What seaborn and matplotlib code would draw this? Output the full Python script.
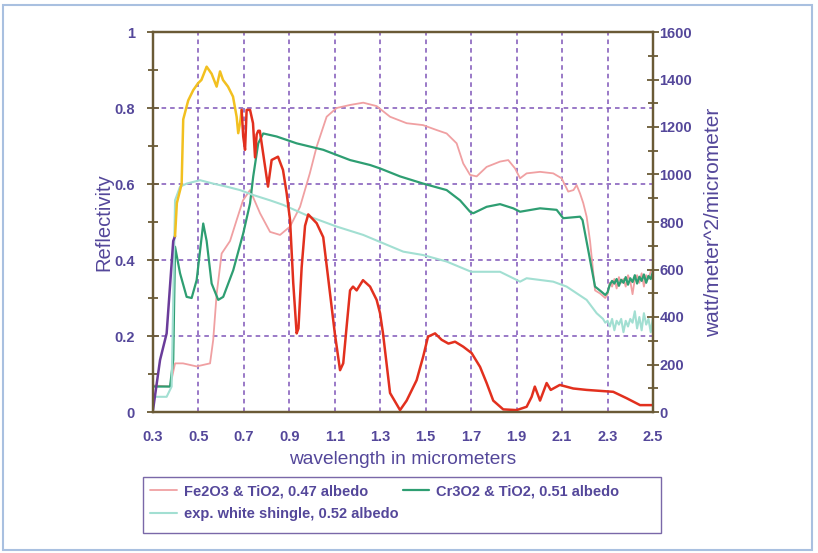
import numpy as np
import pandas as pd
import matplotlib
matplotlib.use("Agg")
import matplotlib.pyplot as plt
from matplotlib.patches import Rectangle
import seaborn as sns

# ---------------- data ----------------
# Fe2O3 & TiO2 reflectivity
fe_x = [0.30, 0.375, 0.397, 0.432, 0.492, 0.551, 0.565, 0.58, 0.602, 0.639, 0.668, 0.696,
        0.727, 0.771, 0.815, 0.859, 0.903, 0.947, 0.99, 1.02, 1.064, 1.108, 1.167, 1.225,
        1.284, 1.343, 1.416, 1.488, 1.548, 1.592, 1.636, 1.665, 1.695, 1.724, 1.768, 1.827,
        1.863, 1.893, 1.915, 1.944, 2.003, 2.061, 2.098, 2.127, 2.15, 2.164, 2.179, 2.193,
        2.208, 2.223, 2.245, 2.267, 2.29, 2.30, 2.31, 2.32, 2.33, 2.34, 2.35, 2.36, 2.37,
        2.38, 2.39, 2.40, 2.41, 2.42, 2.43, 2.44, 2.45, 2.46, 2.47, 2.48, 2.49, 2.50]
fe_y = [0.07, 0.067, 0.128, 0.128, 0.12, 0.128, 0.19, 0.31, 0.417, 0.45, 0.505, 0.557,
        0.584, 0.523, 0.474, 0.466, 0.488, 0.54, 0.628, 0.698, 0.777, 0.80, 0.808, 0.814,
        0.805, 0.777, 0.76, 0.755, 0.742, 0.733, 0.707, 0.654, 0.624, 0.62, 0.645, 0.659,
        0.663, 0.641, 0.615, 0.628, 0.632, 0.628, 0.615, 0.58, 0.584, 0.597, 0.575, 0.55,
        0.514, 0.45, 0.32, 0.312, 0.30, 0.31, 0.34, 0.33, 0.35, 0.325, 0.355, 0.34, 0.35,
        0.33, 0.36, 0.345, 0.31, 0.35, 0.36, 0.34, 0.365, 0.33, 0.36, 0.35, 0.37, 0.375]

# Cr3O2 & TiO2 reflectivity
cr_x = [0.30, 0.375, 0.389, 0.397, 0.419, 0.448, 0.47, 0.492, 0.521, 0.536, 0.558, 0.587,
        0.609, 0.653, 0.697, 0.727, 0.741, 0.763, 0.785, 0.844, 0.932, 1.049, 1.167, 1.255,
        1.299, 1.387, 1.489, 1.592, 1.651, 1.695, 1.709, 1.768, 1.827, 1.885, 1.915, 2.003,
        2.076, 2.105, 2.179, 2.19, 2.215, 2.245, 2.27, 2.29, 2.30, 2.31, 2.32, 2.33, 2.34,
        2.35, 2.36, 2.37, 2.38, 2.39, 2.40, 2.41, 2.42, 2.43, 2.44, 2.45, 2.46, 2.47, 2.48,
        2.49, 2.50]
cr_y = [0.067, 0.067, 0.137, 0.435, 0.365, 0.303, 0.30, 0.347, 0.496, 0.45, 0.338, 0.295,
        0.303, 0.373, 0.47, 0.549, 0.62, 0.707, 0.733, 0.725, 0.707, 0.69, 0.663, 0.65,
        0.641, 0.62, 0.601, 0.584, 0.557, 0.527, 0.523, 0.54, 0.547, 0.536, 0.527, 0.536,
        0.532, 0.51, 0.514, 0.505, 0.426, 0.33, 0.318, 0.308, 0.315, 0.335, 0.345, 0.338, 0.35,
        0.332, 0.348, 0.34, 0.355, 0.335, 0.352, 0.342, 0.36, 0.338, 0.356, 0.345, 0.362, 0.34,
        0.358, 0.35, 0.37]

# experimental white shingle reflectivity
ws_x = [0.30, 0.36, 0.382, 0.389, 0.397, 0.419, 0.448, 0.507, 0.565, 0.624, 0.683, 0.741,
        0.815, 0.873, 0.99, 1.108, 1.225, 1.313, 1.401, 1.489, 1.592, 1.68, 1.70, 1.827,
        1.885, 1.915, 1.944, 2.061, 2.12, 2.208, 2.252, 2.28, 2.29, 2.30, 2.31, 2.32, 2.33,
        2.34, 2.35, 2.36, 2.37, 2.38, 2.39, 2.40, 2.41, 2.42, 2.43, 2.44, 2.45, 2.46, 2.47,
        2.48, 2.49, 2.50]
ws_y = [0.04, 0.04, 0.067, 0.295, 0.557, 0.593, 0.601, 0.61, 0.601, 0.593, 0.584, 0.571,
        0.557, 0.545, 0.514, 0.488, 0.466, 0.444, 0.422, 0.413, 0.396, 0.374, 0.369, 0.369,
        0.352, 0.343, 0.352, 0.343, 0.33, 0.295, 0.26, 0.245, 0.235, 0.24, 0.225, 0.245, 0.215,
        0.24, 0.23, 0.245, 0.21, 0.24, 0.225, 0.245, 0.235, 0.265, 0.22, 0.25, 0.215, 0.26, 0.23,
        0.245, 0.21, 0.25]

# solar spectrum (watt/meter^2/micrometer), three coloured segments
sol_uv_x = [0.30, 0.331, 0.36, 0.389, 0.397]
sol_uv_y = [8, 219, 331, 720, 740]
sol_vis_x = [0.397, 0.405, 0.426, 0.433, 0.455, 0.477, 0.498, 0.513, 0.536, 0.558, 0.58,
             0.595, 0.608, 0.63, 0.652, 0.668, 0.675, 0.683, 0.69]
sol_vis_y = [740, 880, 960, 1232, 1312, 1355, 1384, 1398, 1454, 1424, 1370,
             1434, 1398, 1370, 1328, 1243, 1174, 1216, 1272]
sol_ir_x = [0.69, 0.697, 0.705, 0.712, 0.727, 0.74, 0.749, 0.756, 0.763, 0.77, 0.806, 0.822,
            0.85, 0.872, 0.888, 0.903, 0.917, 0.932, 0.94, 0.954, 0.969, 0.983, 1.02, 1.049,
            1.07, 1.10, 1.123, 1.137, 1.152, 1.167, 1.18, 1.196, 1.224, 1.255, 1.284, 1.299,
            1.312, 1.343, 1.387, 1.416, 1.46, 1.489, 1.51, 1.541, 1.57, 1.60, 1.629, 1.665,
            1.702, 1.739, 1.768, 1.797, 1.841, 1.90, 1.944, 1.966, 1.98, 2.003, 2.032, 2.05,
            2.09, 2.149, 2.208, 2.325, 2.384, 2.443, 2.5]
sol_ir_y = [1272, 1160, 1104, 1272, 1272, 1216, 1072, 1168, 1184, 1184, 949, 1061,
            1075, 1019, 922, 808, 544, 331, 352, 608, 784, 832, 795, 736,
            570, 331, 176, 205, 360, 512, 528, 512, 555, 528, 472, 416,
            331, 80, 8, 48, 134, 234, 317, 331, 304, 288, 296, 275,
            248, 190, 122, 48, 11, 8, 22, 64, 107, 48, 122, 93,
            114, 99, 93, 85, 58, 29, 29]

x_ticks = [0.3, 0.5, 0.7, 0.9, 1.1, 1.3, 1.5, 1.7, 1.9, 2.1, 2.3, 2.5]
y_ticks = [0, 0.2, 0.4, 0.6, 0.8, 1]
y2_ticks = [0, 200, 400, 600, 800, 1000, 1200, 1400, 1600]

# ---------------- style ----------------
sns.set_style("white")
plt.rcParams['font.family'] = ['Liberation Sans', 'DejaVu Sans']

TXT = '#54479A'
SPINE = '#6A5A36'
GRID = '#7E55B8'
C_FE = '#F0A0A2'
C_CR = '#2E9E72'
C_WS = '#A2DFD2'

fig = plt.figure(figsize=(8.18, 5.53), dpi=100)
ax = fig.add_axes([153/818, 1-412/553, 500/818, 380/553])
ax2 = ax.twinx()

sns.lineplot(x=fe_x, y=fe_y, ax=ax, color=C_FE, lw=1.3, sort=False, estimator=None,
             label='Fe2O3 & TiO2, 0.47 albedo')
sns.lineplot(x=cr_x, y=cr_y, ax=ax, color=C_CR, lw=1.6, sort=False, estimator=None,
             label='Cr3O2 & TiO2, 0.51 albedo')
sns.lineplot(x=ws_x, y=ws_y, ax=ax, color=C_WS, lw=1.5, sort=False, estimator=None,
             label='exp. white shingle, 0.52 albedo')

sns.lineplot(x=sol_uv_x, y=sol_uv_y, ax=ax2, color='#6A3C9A', lw=1.8, sort=False, estimator=None)
sns.lineplot(x=sol_vis_x, y=sol_vis_y, ax=ax2, color='#F2C020', lw=1.8, sort=False, estimator=None)
sns.lineplot(x=sol_ir_x, y=sol_ir_y, ax=ax2, color='#E2301E', lw=1.8, sort=False, estimator=None)

ax.set_xlim(0.3, 2.5)
ax.set_ylim(0, 1)
ax2.set_ylim(0, 1600)

ax.set_xticks(x_ticks)
ax.set_xticklabels([f'{v:g}' for v in x_ticks])
ax.set_xticks(np.arange(0.4, 2.5, 0.2), minor=True)
ax.set_yticks(y_ticks)
ax.set_yticklabels(['0', '0.2', '0.4', '0.6', '0.8', '1'])
ax.set_yticks(np.arange(0.1, 1.0, 0.2), minor=True)
ax2.set_yticks(y2_ticks)
ax2.set_yticklabels([str(v) for v in y2_ticks])
ax2.set_yticks(np.arange(100, 1600, 200), minor=True)

ax.grid(True, which='major', axis='both', color=GRID, lw=1.1, linestyle=(0, (3, 2.6)))
ax2.grid(False)

for a in (ax, ax2):
    for s in a.spines.values():
        s.set_color(SPINE)
        s.set_linewidth(1.6)
    a.tick_params(which='both', direction='inout', color=SPINE, width=1.3,
                  labelcolor=TXT, labelsize=10.5)
    a.tick_params(which='major', length=8)
    a.tick_params(which='minor', length=7)
ax.tick_params(axis='x', which='major', pad=9)
ax.tick_params(axis='y', which='major', pad=9)
ax2.tick_params(axis='y', which='major', pad=0.5)
for lab in ax.get_xticklabels() + ax.get_yticklabels() + ax2.get_yticklabels():
    lab.set_fontweight('bold')

ax.set_xlabel('wavelength in micrometers', fontsize=13.8, color=TXT, labelpad=5)
ax.set_ylabel('Reflectivity', fontsize=14.5, color=TXT, labelpad=1)
ax2.set_ylabel('watt/meter^2/micrometer', fontsize=15, color=TXT, labelpad=9)

ax.get_legend().remove()
h, l = ax.get_legend_handles_labels()
order = [0, 2, 1]
leg = fig.legend([h[i] for i in order], [l[i] for i in order], ncol=2,
                 bbox_to_anchor=(143/818, 1-477/553),
                 bbox_transform=fig.transFigure, loc='upper left',
                 frameon=False, fontsize=10.5,
                 handlelength=1.8, handletextpad=0.5, borderaxespad=0, borderpad=0.5,
                 labelspacing=0.6, columnspacing=0.3)
for t in leg.get_texts():
    t.set_color(TXT)
    t.set_fontweight('bold')

fig.patches.append(Rectangle((143/818, 1-533/553), 518/818, 56/553, transform=fig.transFigure,
                             fill=False, edgecolor='#7A68A8', lw=1.0))
fig.patches.append(Rectangle((3/818, 3/553), 809/818, 545/553, transform=fig.transFigure,
                             fill=False, edgecolor='#A9C0E0', lw=1.5))

fig.savefig('out.png', dpi=100, facecolor='white')
